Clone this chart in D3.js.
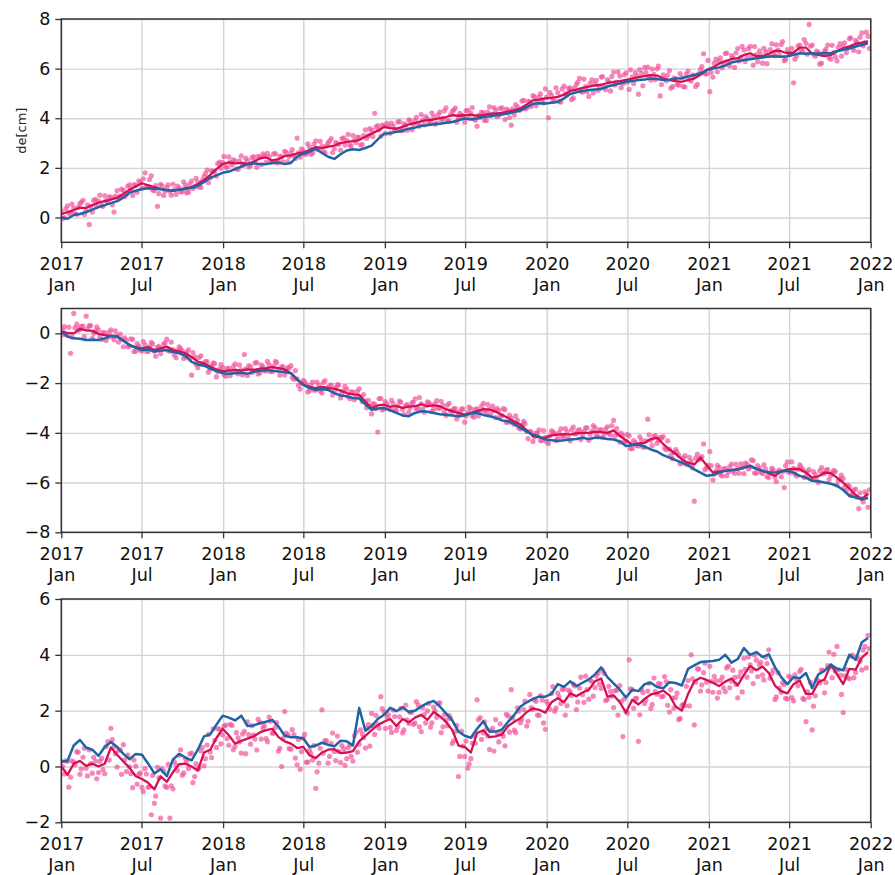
<!DOCTYPE html>
<html lang="en">

<head>
    <meta charset="UTF-8">
    <title>de time series</title>
    <style>
        body { margin: 0; background: #fff; }
        text { font-family: "DejaVu Sans", sans-serif; }
    </style>
</head>

<body>
    <svg id="chart" width="895" height="875"></svg>

    <script src="https://d3js.org/d3.v7.min.js"></script>
    <script>

        // time axis: dates of the samples
        var startDate = "2017-01-01"
        var endDate = "2022-01-01"
        var lineStepDays = 14   // smoothed / model lines, one value every 14 days
        var dotStepDays = 7     // observations, two runs of one value every 7 days
        var dotOffsetDays = [0, 3]
        var xTickMonths = 6

        // y tick labels of the three panels
        var yTicksE = [0, 2, 4, 6, 8]
        var yTicksN = [-8, -6, -4, -2, 0]
        var yTicksU = [-2, 0, 2, 4, 6]

        // panel 1
        var dotsE = [0.25, 0.0, 0.47, 0.21, 0.38, 0.13, 0.55, 0.69, 0.26, -0.28,
            0.22, 0.73, 0.66, 0.48, 0.88, 0.61, 0.82, 0.22, 1.08, 0.86,
            1.09, 0.94, 1.32, 0.89, 1.30, 1.48, 1.18, 1.8, 1.24, 1.68,
            1.08, 0.45, 1.34, 0.89, 1.21, 1.05, 1.35, 0.93, 1.19, 1.04,
            1.30, 1.02, 1.47, 1.24, 1.43, 1.21, 1.65, 1.91, 1.60, 1.86,
            1.67, 2.23, 2.21, 2.04, 2.44, 2.12, 2.28, 1.94, 2.48, 2.16,
            2.29, 2.10, 2.45, 2.02, 2.43, 2.56, 2.22, 2.45, 2.24, 2.57,
            2.21, 2.45, 2.67, 2.25, 2.61, 2.50, 3.2, 2.43, 2.69, 2.56,
            2.84, 2.60, 3.09, 2.77, 2.88, 2.61, 3.01, 3.18, 2.78, 2.97,
            2.72, 3.21, 3.11, 2.92, 3.30, 3.02, 3.22, 2.94, 3.53, 3.30,
            3.52, 4.2, 3.70, 3.28, 3.70, 3.79, 3.40, 3.68, 3.52, 3.86,
            3.51, 3.73, 3.94, 3.54, 3.91, 3.80, 4.15, 3.73, 3.99, 3.83,
            4.07, 3.80, 4.25, 3.98, 4.42, 3.87, 4.27, 4.41, 3.98, 4.13,
            3.84, 4.32, 4.21, 3.98, 3.68, 4.04, 4.23, 3.91, 4.46, 4.17,
            4.34, 4.11, 4.42, 3.95, 4.32, 3.72, 4.13, 4.46, 4.34, 4.72,
            4.41, 4.67, 4.91, 4.50, 4.86, 4.74, 5.18, 4.02, 4.92, 4.69,
            5.03, 4.65, 5.30, 4.96, 5.21, 4.82, 5.36, 5.61, 5.05, 5.28,
            4.88, 5.55, 5.40, 5.13, 5.66, 5.27, 5.56, 5.10, 5.86, 5.46,
            5.70, 5.39, 5.83, 5.16, 5.67, 5.85, 4.97, 5.81, 6.05, 6.06,
            5.54, 5.77, 5.99, 4.9, 5.75, 5.51, 5.92, 5.28, 5.60, 5.33,
            5.64, 5.26, 5.90, 5.50, 5.71, 5.37, 5.96, 6.6, 5.78, 5.07,
            5.66, 6.38, 6.28, 6.04, 6.61, 6.23, 6.52, 6.05, 6.81, 6.46,
            6.75, 6.45, 6.90, 6.14, 6.57, 6.72, 6.22, 6.68, 6.52, 7.00,
            6.52, 6.75, 6.97, 6.32, 6.77, 6.58, 5.43, 6.51, 6.95, 6.70,
            7.02, 7.78, 6.95, 6.50, 6.66, 6.22, 6.71, 6.95, 6.38, 6.66,
            6.31, 7.01, 6.90, 6.65, 7.21, 6.84, 7.14, 6.68, 7.44, 7.05, 7.30]
        var dotsE2 = [-0.05, 0.35, 0.16, 0.54, 0.16, 0.41, 0.61, 0.12, 0.51, 0.44,
            0.69, 0.45, 0.9, 0.45, 0.68, 0.83, 0.51, 0.86, 0.75, 1.14,
            0.84, 1.26, 1.14, 1.33, 1.02, 1.41, 1.56, 1.25, 1.53, 1.11,
            1.29, 0.96, 1.28, 1.07, 1.32, 0.9, 1.12, 1.27, 1.04, 1.44,
            0.99, 1.36, 1.17, 1.58, 1.23, 1.5, 1.77, 1.4, 1.88, 1.86,
            2.17, 1.98, 2.46, 2.01, 2.22, 2.32, 1.96, 2.28, 2.1, 2.39,
            2.03, 2.41, 2.27, 2.46, 2.13, 2.47, 2.59, 2.26, 2.56, 2.21,
            2.47, 2.24, 2.63, 2.46, 2.74, 2.38, 2.62, 2.77, 2.55, 2.97,
            2.55, 2.96, 2.75, 3.07, 2.66, 2.89, 3.08, 2.62, 3.03, 2.95,
            3.18, 2.92, 3.35, 2.88, 3.1, 3.24, 2.92, 3.3, 3.19, 3.58,
            3.26, 3.65, 3.53, 3.72, 3.38, 3.67, 3.8, 3.52, 3.85, 3.5,
            3.77, 3.52, 3.9, 3.75, 4.04, 3.68, 3.92, 4.07, 3.83, 4.21,
            3.76, 4.14, 3.93, 4.3, 3.91, 4.14, 4.33, 3.84, 4.2, 4.09,
            4.3, 4.02, 4.43, 3.92, 4.12, 4.25, 3.91, 4.25, 4.1, 4.43,
            4.06, 4.4, 4.22, 4.37, 4.03, 4.38, 4.55, 4.31, 4.69, 4.38,
            4.68, 4.47, 4.87, 4.7, 4.98, 4.61, 4.85, 5.04, 4.69, 5.23,
            4.67, 5.18, 4.98, 5.21, 4.75, 5.22, 5.45, 5.1, 5.58, 5.08,
            5.41, 5.02, 5.53, 5.28, 5.68, 5.15, 5.47, 5.68, 5.34, 5.87,
            5.23, 5.75, 5.45, 5.95, 5.4, 5.71, 5.96, 5.31, 5.85, 5.69,
            5.98, 5.56, 6.1, 5.36, 5.6, 5.74, 5.21, 5.62, 5.36, 5.8,
            5.28, 5.78, 5.55, 5.74, 5.28, 5.79, 6.08, 5.8, 6.33, 5.85,
            6.22, 5.87, 6.43, 6.22, 6.63, 6.11, 6.43, 6.63, 6.31, 6.9,
            6.29, 6.81, 6.48, 6.89, 6.28, 6.56, 6.82, 6.2, 6.77, 6.65,
            6.96, 6.54, 7.09, 6.37, 6.64, 6.82, 6.38, 6.91, 6.72, 7.17,
            6.58, 6.91, 6.58, 6.71, 6.18, 6.59, 6.79, 6.44, 6.94, 6.48,
            6.86, 6.5, 7.04, 6.82, 7.24, 6.73, 7.05, 7.26, 6.92, 7.47, 6.82]
        var redE = [0.13, 0.22, 0.3, 0.4, 0.38, 0.5, 0.6, 0.66, 0.72, 0.8,
            0.95, 1.12, 1.25, 1.38, 1.3, 1.22, 1.15, 1.1, 1.08, 1.12,
            1.18, 1.22, 1.35, 1.5, 1.72, 1.95, 2.15, 2.22, 2.18, 2.2,
            2.15, 2.25, 2.38, 2.42, 2.3, 2.35, 2.48, 2.5, 2.58, 2.62,
            2.72, 2.84, 2.8, 2.86, 2.9, 3.0, 3.05, 3.08, 3.12, 3.25,
            3.38, 3.5, 3.65, 3.6, 3.58, 3.65, 3.75, 3.8, 3.88, 3.92,
            3.95, 4.0, 4.05, 4.12, 4.1, 4.12, 4.15, 4.1, 4.13, 4.18,
            4.2, 4.22, 4.27, 4.33, 4.4, 4.55, 4.72, 4.75, 4.8, 4.82,
            4.86, 4.95, 5.1, 5.15, 5.22, 5.27, 5.32, 5.35, 5.42, 5.47,
            5.5, 5.55, 5.6, 5.66, 5.7, 5.74, 5.72, 5.6, 5.54, 5.5,
            5.47, 5.55, 5.6, 5.75, 5.95, 6.05, 6.2, 6.3, 6.38, 6.42,
            6.55, 6.62, 6.5, 6.5, 6.6, 6.72, 6.7, 6.62, 6.65, 6.85,
            6.85, 6.6, 6.55, 6.5, 6.55, 6.7, 6.82, 6.9, 7.0, 7.05,
            7.1]
        var blueE = [0.0, -0.05, 0.1, 0.14, 0.22, 0.32, 0.42, 0.5, 0.58, 0.66,
            0.8, 1.0, 1.08, 1.15, 1.18, 1.16, 1.14, 1.1, 1.08, 1.12,
            1.15, 1.2, 1.28, 1.42, 1.6, 1.7, 1.8, 1.85, 1.95, 2.05,
            2.15, 2.18, 2.16, 2.15, 2.2, 2.22, 2.15, 2.2, 2.45, 2.57,
            2.65, 2.77, 2.6, 2.45, 2.36, 2.55, 2.7, 2.75, 2.72, 2.8,
            2.9, 3.15, 3.38, 3.4, 3.45, 3.5, 3.58, 3.62, 3.7, 3.72,
            3.76, 3.78, 3.82, 3.85, 3.92, 3.99, 3.95, 3.99, 4.05, 4.08,
            4.12, 4.15, 4.19, 4.25, 4.32, 4.45, 4.58, 4.6, 4.59, 4.62,
            4.66, 4.8, 4.98, 5.05, 5.1, 5.14, 5.16, 5.18, 5.28, 5.34,
            5.4, 5.47, 5.5, 5.54, 5.56, 5.6, 5.58, 5.54, 5.55, 5.6,
            5.61, 5.68, 5.74, 5.82, 5.93, 6.0, 6.05, 6.12, 6.25, 6.3,
            6.35, 6.38, 6.42, 6.45, 6.49, 6.5, 6.48, 6.5, 6.56, 6.62,
            6.6, 6.62, 6.6, 6.63, 6.62, 6.7, 6.76, 6.82, 6.89, 6.95,
            7.02]

        // panel 2
        var dotsN = [-0.08, 0.27, -0.06, -0.8, 0.8, 0.37, 0.16, 0.29, 0.69, 0.31,
            -0.2, 0.09, 0.14, -0.25, 0.02, -0.15, 0.14, -0.26, -0.1, -0.03,
            -0.54, -0.28, -0.51, -0.24, -0.72, -0.51, -0.71, -0.46, -0.73, -0.36,
            -0.72, -0.56, -0.82, -0.42, -0.23, -0.72, -0.65, -0.98, -0.54, -0.7,
            -0.95, -0.66, -1.68, -0.94, -1.38, -0.9, -1.24, -1.14, -1.43, -1.19,
            -1.75, -1.44, -1.37, -1.72, -1.41, -1.55, -1.23, -1.63, -1.47, -0.85,
            -1.69, -1.35, -1.51, -1.18, -1.59, -1.34, -1.51, -1.26, -1.54, -1.13,
            -1.45, -1.35, -1.67, -1.38, -1.3, -1.85, -1.83, -2.24, -1.89, -2.05,
            -2.3, -1.96, -2.28, -2.08, -2.4, -1.9, -2.22, -2.07, -2.32, -2.06,
            -2.6, -2.3, -2.24, -2.63, -2.36, -2.52, -2.23, -2.75, -2.72, -2.69,
            -3.24, -2.84, -3.97, -2.62, -3.04, -2.84, -3.06, -2.82, -3.11, -2.72,
            -3.05, -2.9, -3.17, -2.79, -2.63, -3.01, -2.83, -3.17, -2.75, -2.86,
            -3.05, -2.7, -3.01, -2.89, -3.3, -2.81, -3.15, -3.03, -3.3, -3.04,
            -3.57, -3.19, -3.04, -3.37, -3.04, -3.15, -2.81, -3.2, -3.04, -2.92,
            -3.39, -3.1, -3.31, -3.07, -3.57, -3.41, -3.66, -3.49, -3.85, -3.54,
            -3.95, -3.94, -4.35, -4.01, -3.88, -4.31, -4.18, -4.43, -3.92, -4.03,
            -4.22, -3.84, -4.13, -3.96, -4.32, -3.77, -4.04, -3.87, -4.1, -3.8,
            -4.3, -3.93, -3.79, -4.16, -3.88, -4.05, -3.76, -4.09, -3.5, -3.83,
            -4.37, -4.11, -4.34, -4.12, -4.64, -4.38, -4.53, -4.29, -4.58, -3.45,
            -4.3, -4.15, -4.42, -4.18, -4.15, -4.68, -4.65, -5.04, -4.67, -4.9,
            -5.22, -4.92, -5.28, -5.14, -6.75, -4.86, -5.02, -4.45, -5.4, -4.75,
            -5.9, -5.53, -5.39, -5.74, -5.44, -5.58, -5.26, -5.63, -5.44, -5.25,
            -5.64, -5.26, -5.37, -5.12, -5.62, -5.42, -5.64, -5.46, -5.8, -5.43,
            -5.78, -5.56, -5.77, -6.2, -5.17, -5.58, -5.43, -5.74, -5.29, -5.48,
            -5.75, -5.48, -5.88, -5.68, -6.0, -5.4, -5.62, -5.47, -5.72, -5.51,
            -6.1, -5.85, -5.84, -6.33, -6.16, -6.44, -6.26, -7.05, -6.64, -6.37, -7.0]
        var dotsN2 = [0.14, -0.06, 0.25, -0.15, 0.23, 0.13, 0.28, -0.13, 0.18, 0.31,
            0.0, 0.26, -0.16, 0.03, -0.29, 0.05, -0.15, 0.1, -0.35, -0.23,
            -0.18, -0.53, -0.22, -0.73, -0.41, -0.67, -0.33, -0.72, -0.54, -0.43,
            -0.92, -0.52, -0.61, -0.38, -0.69, -0.35, -0.87, -0.7, -0.61, -1.01,
            -0.76, -1.0, -0.77, -1.24, -0.97, -1.21, -1.14, -1.56, -1.3, -1.22,
            -1.54, -1.26, -1.65, -1.42, -1.7, -1.34, -1.52, -1.27, -1.67, -1.43,
            -1.3, -1.57, -1.19, -1.63, -1.27, -1.49, -1.13, -1.53, -1.33, -1.18,
            -1.68, -1.34, -1.52, -1.39, -1.78, -1.5, -2.09, -2.0, -1.96, -2.36,
            -2.08, -2.28, -1.96, -2.31, -1.98, -2.2, -2.1, -2.48, -2.18, -2.08,
            -2.4, -2.13, -2.54, -2.35, -2.67, -2.33, -2.58, -2.46, -2.99, -2.91,
            -2.82, -3.03, -2.62, -3.08, -2.74, -3.01, -2.69, -3.1, -2.91, -2.77,
            -3.26, -2.86, -2.98, -2.77, -3.03, -2.58, -3.06, -2.9, -2.79, -3.14,
            -2.83, -3.01, -2.73, -3.17, -2.89, -3.12, -3.04, -3.44, -3.16, -3.05,
            -3.32, -2.97, -3.31, -3.06, -3.32, -2.93, -3.1, -2.85, -3.27, -3.1,
            -3.02, -3.34, -3.03, -3.57, -3.29, -3.59, -3.32, -3.8, -3.69, -3.63,
            -4.23, -3.97, -4.17, -4.0, -4.31, -3.91, -4.37, -4.12, -3.96, -4.31,
            -3.99, -4.15, -3.83, -4.22, -3.88, -4.04, -3.91, -4.27, -3.94, -3.8,
            -4.06, -3.71, -4.09, -3.88, -4.19, -3.85, -4.02, -3.71, -4.14, -4.04,
            -4.01, -4.36, -4.07, -4.63, -4.31, -4.51, -4.16, -4.57, -4.32, -4.08,
            -4.51, -4.11, -4.29, -4.22, -4.62, -4.32, -4.9, -4.79, -4.77, -5.24,
            -5.02, -5.26, -4.99, -5.4, -5.02, -5.08, -4.96, -5.48, -5.31, -5.32,
            -5.66, -5.31, -5.68, -5.45, -5.73, -5.37, -5.53, -5.26, -5.63, -5.39,
            -5.22, -5.45, -5.09, -5.62, -5.32, -5.59, -5.29, -5.76, -5.61, -5.49,
            -5.96, -5.5, -5.56, -5.32, -5.59, -5.17, -5.65, -5.46, -5.37, -5.8,
            -5.57, -5.84, -5.56, -5.91, -5.53, -5.65, -5.5, -5.88, -5.61, -5.56,
            -5.92, -5.7, -6.19, -6.1, -6.52, -6.3, -6.58, -6.41, -6.78, -6.47, -6.29]
        var redN = [0.07, 0.02, 0.0, 0.18, 0.12, 0.1, -0.02, -0.07, -0.1, -0.13,
            -0.3, -0.47, -0.55, -0.6, -0.55, -0.67, -0.6, -0.53, -0.67, -0.72,
            -0.8, -0.95, -1.13, -1.22, -1.33, -1.45, -1.53, -1.5, -1.47, -1.5,
            -1.45, -1.47, -1.42, -1.4, -1.36, -1.4, -1.45, -1.6, -1.85, -2.07,
            -2.15, -2.2, -2.15, -2.2, -2.22, -2.3, -2.4, -2.45, -2.47, -2.75,
            -3.0, -2.9, -2.87, -2.95, -2.93, -3.0, -2.95, -2.93, -2.85, -2.93,
            -2.9, -2.93, -3.05, -3.13, -3.2, -3.27, -3.2, -3.13, -3.05, -3.07,
            -3.15, -3.27, -3.4, -3.55, -3.67, -3.9, -4.13, -4.18, -4.2, -4.1,
            -4.07, -4.05, -4.07, -4.02, -4.0, -4.0, -3.95, -3.97, -4.0, -3.9,
            -4.13, -4.3, -4.47, -4.42, -4.4, -4.25, -4.2, -4.45, -4.67, -4.85,
            -5.07, -5.2, -5.27, -5.0, -5.3, -5.6, -5.55, -5.53, -5.5, -5.47,
            -5.4, -5.33, -5.45, -5.53, -5.62, -5.73, -5.55, -5.47, -5.45, -5.47,
            -5.6, -5.8, -5.75, -5.6, -5.62, -5.8, -6.0, -6.25, -6.5, -6.67,
            -6.45]
        var blueN = [0.07, -0.13, -0.2, -0.22, -0.27, -0.26, -0.27, -0.2, -0.1, -0.13,
            -0.3, -0.47, -0.58, -0.67, -0.65, -0.73, -0.7, -0.67, -0.75, -0.8,
            -0.9, -1.15, -1.25, -1.3, -1.42, -1.52, -1.6, -1.62, -1.6, -1.58,
            -1.62, -1.55, -1.5, -1.47, -1.5, -1.53, -1.55, -1.6, -1.85, -2.07,
            -2.2, -2.27, -2.25, -2.27, -2.4, -2.5, -2.53, -2.6, -2.62, -2.85,
            -3.07, -3.02, -3.0, -3.1, -3.2, -3.3, -3.33, -3.2, -3.13, -3.15,
            -3.2, -3.25, -3.27, -3.3, -3.33, -3.3, -3.22, -3.2, -3.28, -3.33,
            -3.4, -3.5, -3.53, -3.65, -3.8, -3.95, -4.07, -4.15, -4.27, -4.3,
            -4.33, -4.3, -4.27, -4.25, -4.2, -4.25, -4.2, -4.2, -4.25, -4.27,
            -4.35, -4.53, -4.5, -4.47, -4.55, -4.67, -4.75, -4.9, -5.0, -5.1,
            -5.2, -5.3, -5.47, -5.6, -5.73, -5.7, -5.6, -5.53, -5.5, -5.47,
            -5.4, -5.33, -5.45, -5.53, -5.58, -5.6, -5.55, -5.53, -5.6, -5.73,
            -5.8, -5.93, -5.95, -6.0, -6.05, -6.13, -6.3, -6.53, -6.6, -6.67,
            -6.62]

        // panel 3
        var dotsU = [0.18, -0.27, 0.18, -0.38, 0.16, 0.53, -0.28, 0.33, -0.06, 0.6,
            -0.24, 0.19, -0.22, 0.29, -0.26, 0.89, 1.37, 0.71, -0.02, 0.6,
            0.78, -0.18, -0.01, -0.76, 0.01, -0.28, -0.75, -0.08, -0.74, -1.73,
            -1.32, -0.03, -1.85, -0.17, -0.75, -1.85, -0.8, 0.04, 0.4, -0.31,
            0.28, -0.07, 0.48, -0.36, -0.09, 0.56, 0.02, 0.77, 0.52, 1.35,
            0.68, 1.33, 1.13, 1.48, 0.76, 1.47, 0.72, 1.03, 0.48, 1.26,
            1.6, 0.8, 1.12, 0.59, 1.58, 1.38, 1.0, 1.77, 1.19, 1.4,
            0.55, 0.0, 1.97, 1.14, 0.62, 1.14, 0.06, -0.1, 1.02, 0.15,
            0.58, 0.23, -0.78, 0.12, 2.03, 0.93, 0.12, 0.83, 0.54, 1.09,
            0.14, 0.63, 0.28, 0.77, 0.19, 1.23, 0.8, 1.16, 0.66, 1.5,
            1.9, 1.15, 1.52, 2.5, 1.96, 1.77, 1.4, 2.02, 1.29, 1.78,
            1.2, 2.2, 1.54, 1.95, 1.55, 2.2, 1.25, 1.86, 1.99, 1.41,
            2.13, 1.76, 2.28, 1.42, 1.66, 1.83, 0.82, 1.25, -0.36, 1.27,
            0.36, -0.06, 0.28, 1.09, 2.39, 1.75, 1.2, 1.34, 0.61, 1.37,
            1.68, 0.88, 1.19, 0.74, 1.81, 2.75, 1.3, 2.1, 1.57, 2.04,
            1.45, 2.58, 2.04, 2.34, 1.83, 2.38, 1.33, 2.22, 2.62, 1.98,
            2.63, 2.26, 2.78, 2.18, 2.68, 2.95, 2.04, 2.81, 2.57, 3.24,
            2.41, 3.04, 2.83, 3.34, 2.79, 3.33, 2.4, 2.69, 2.11, 2.73,
            2.9, 1.07, 1.97, 3.82, 2.75, 2.43, 0.9, 2.76, 2.26, 2.7,
            2.08, 3.17, 2.59, 2.96, 2.52, 3.04, 1.95, 2.45, 2.47, 1.68,
            2.18, 2.18, 3.08, 4.0, 1.49, 3.5, 2.7, 3.36, 3.02, 3.59,
            2.66, 3.08, 2.66, 3.2, 2.68, 3.6, 3.05, 3.19, 2.46, 3.39,
            3.88, 3.2, 3.64, 2.97, 3.81, 3.64, 3.28, 3.91, 4.18, 3.33,
            2.4, 3.36, 2.66, 2.94, 2.42, 3.19, 2.35, 3.12, 3.4, 2.44,
            1.61, 2.48, 1.31, 2.53, 3.08, 3.45, 2.64, 3.61, 3.57, 4.02,
            4.3, 3.27, 1.93, 3.47, 3.14, 3.99, 3.37, 3.85, 3.46, 4.3, 4.7]
        var dotsU2 = [0.0, 0.2, -0.74, 0.2, 0.06, 0.51, -0.09, 0.65, -0.34, 0.1,
            0.33, -0.44, 0.18, -0.11, 0.71, 0.23, 0.96, 0.46, 0.58, -0.28,
            0.24, 0.41, -0.26, 0.23, -0.63, -0.24, -0.9, -0.27, -0.72, -0.32,
            -1.06, -0.41, -0.08, -0.7, 0.08, -0.69, 0.17, -0.15, 0.6, -0.23,
            0.16, 0.45, -0.58, 0.09, -0.05, 0.68, 0.28, 1.15, 0.32, 0.94,
            1.36, 0.81, 1.45, 1.0, 1.51, 0.6, 1.21, 0.88, 1.16, 0.46,
            1.14, 1.46, 0.98, 1.69, 0.98, 1.46, 0.89, 1.62, 1.2, 1.57,
            0.65, 1.0, 1.2, 0.64, 1.32, 0.3, 0.97, 0.53, 1.15, 0.16,
            0.46, 0.75, -0.19, 0.65, 0.47, 0.92, 0.36, 1.2, 0.21, 0.54,
            0.75, 0.04, 0.67, 0.36, 1.1, 0.51, 1.31, 1.03, 1.37, 0.73,
            1.47, 1.83, 1.37, 2.07, 1.36, 1.85, 1.22, 1.79, 1.43, 2.08,
            1.31, 1.67, 1.94, 1.51, 2.32, 1.42, 2.1, 1.56, 2.26, 1.56,
            1.99, 2.26, 1.21, 1.85, 1.46, 1.72, 0.92, 1.47, 0.36, 0.73,
            0.91, 0.09, 0.84, 0.84, 1.68, 0.97, 1.6, 1.09, 1.28, 0.55,
            1.22, 1.53, 1.08, 1.87, 1.23, 1.74, 1.21, 1.98, 1.7, 2.34,
            1.62, 2.11, 2.39, 1.84, 2.54, 1.56, 2.32, 2.05, 2.86, 2.09,
            2.49, 2.76, 1.84, 2.74, 2.54, 2.89, 2.31, 3.2, 2.3, 2.75,
            3.09, 2.52, 3.24, 2.95, 3.45, 2.36, 2.87, 2.52, 2.71, 1.84,
            2.33, 2.42, 1.91, 2.78, 2.09, 2.44, 1.85, 2.65, 2.38, 2.98,
            2.23, 2.68, 2.97, 2.5, 3.22, 2.19, 2.75, 2.09, 2.63, 1.72,
            2.23, 2.87, 2.17, 3.14, 3.02, 3.49, 2.92, 3.7, 2.7, 3.05,
            3.23, 2.45, 3.08, 2.82, 3.53, 2.82, 3.45, 2.94, 3.22, 2.67,
            3.48, 3.92, 3.42, 3.99, 3.22, 3.73, 3.1, 3.69, 3.16, 3.45,
            2.49, 2.81, 3.0, 2.44, 3.24, 2.47, 3.28, 2.89, 3.48, 2.4,
            2.68, 3.02, 2.16, 3.12, 2.99, 3.44, 3.01, 4.1, 3.18, 3.41,
            3.47, 2.58, 3.25, 3.18, 3.95, 3.18, 3.94, 3.77, 4.17, 3.53, 4.22]
        var redU = [0, -0.3, 0.1, 0.2, 0.02, 0.1, 0, 0.1, 0.68, 0.42,
            0.18, -0.05, -0.35, -0.45, -0.58, -0.82, -0.35, -0.55, -0.2, 0.08,
            0.1, 0, -0.15, 0.5, 0.6, 1.02, 1.35, 1.12, 0.82, 0.92,
            1.0, 1.08, 1.22, 1.3, 1.35, 1.05, 0.9, 0.82, 0.66, 0.7,
            0.4, 0.3, 0.5, 0.6, 0.62, 0.48, 0.5, 0.55, 0.9, 1.1,
            1.3, 1.48, 1.6, 1.7, 1.45, 1.7, 1.58, 1.75, 1.85, 1.67,
            1.95, 1.8, 1.6, 1.3, 0.75, 0.7, 0.5, 1.2, 1.3, 1.05,
            1.08, 1.15, 1.45, 1.6, 1.73, 1.95, 2.08, 2.03, 1.93, 2.3,
            2.45, 2.3, 2.62, 2.52, 2.65, 2.75, 3.05, 3.15, 2.5, 2.55,
            2.3, 1.93, 2.39, 2.22, 2.42, 2.58, 2.63, 2.72, 2.55, 2.15,
            2.0, 2.6, 3.05, 3.18, 3.1, 3.0, 2.88, 3.04, 3.15, 2.9,
            3.28, 3.6, 3.45, 3.58, 3.35, 2.9, 2.7, 2.62, 2.95, 3.08,
            2.6, 2.6, 3.02, 3.12, 3.65, 3.3, 2.95, 3.5, 3.47, 3.9,
            4.1]
        var blueU = [0.18, 0.2, 0.75, 0.95, 0.68, 0.6, 0.38, 0.7, 0.88, 0.7,
            0.45, 0.26, 0.45, 0.42, 0.1, -0.25, -0.1, -0.35, 0.25, 0.45,
            0.32, 0.22, 0.6, 1.08, 1.15, 1.5, 1.82, 1.75, 1.65, 1.82,
            1.45, 1.47, 1.55, 1.6, 1.67, 1.43, 1.1, 1.05, 1.05, 1.0,
            0.7, 0.75, 0.85, 0.78, 0.72, 0.92, 0.9, 0.75, 2.1, 1.28,
            1.45, 1.7, 1.85, 2.1, 1.98, 2.12, 1.95, 2.0, 2.15, 2.27,
            2.35, 2.15, 1.9, 1.65, 1.25, 1.1, 1.03, 1.35, 1.62, 1.25,
            1.25, 1.32, 1.6, 1.85, 2.15, 2.3, 2.42, 2.5, 2.5, 2.6,
            2.95, 2.85, 3.05, 2.88, 3.0, 3.12, 3.3, 3.55, 3.2, 2.98,
            2.75, 2.47, 2.75, 2.7, 2.95, 3.0, 2.85, 2.8, 3.02, 2.99,
            2.9, 3.5, 3.62, 3.74, 3.76, 3.78, 3.82, 4.0, 3.72, 3.85,
            4.24, 4.0, 4.1, 3.92, 4.02, 3.56, 3.2, 2.95, 3.2, 3.16,
            3.35, 2.8, 3.3, 3.43, 3.65, 3.5, 3.45, 4.0, 3.82, 4.45,
            4.6]

        var parseDate = d3.utcParse("%Y-%m-%d")
        var start = parseDate(startDate)

        // set the dimensions of the three panels
        var left = 61.3, right = 870.7
        var panels = [
            { top: 19, bottom: 242.3, domain: [-1, 8], ticks: yTicksE, dots: [dotsE, dotsE2], red: redE, blue: blueE, label: "de[cm]" },
            { top: 308.5, bottom: 532.3, domain: [-8, 1], ticks: yTicksN, dots: [dotsN, dotsN2], red: redN, blue: blueN, label: "" },
            { top: 599, bottom: 822.3, domain: [-2, 6], ticks: yTicksU, dots: [dotsU, dotsU2], red: redU, blue: blueU, label: "" }
        ]

        var svg = d3.select("#chart")

        var x = d3.scaleUtc()
            .domain([start, parseDate(endDate)])
            .range([left, right])

        var xTicks = d3.utcMonth.every(xTickMonths)

        panels.forEach(function (p, k) {
            var y = d3.scaleLinear().domain(p.domain).range([p.bottom, p.top])
            var h = p.bottom - p.top
            var g = svg.append("g")

            // grid lines
            g.append("g")
                .attr("transform", "translate(0," + p.bottom + ")")
                .call(d3.axisBottom(x).ticks(xTicks).tickSize(-h).tickFormat(""))
                .call(function (a) { a.select(".domain").remove() })
                .selectAll("line").attr("stroke", "#d3d3d3").attr("stroke-width", 1.4)
            g.append("g")
                .attr("transform", "translate(" + left + ",0)")
                .call(d3.axisLeft(y).tickValues(p.ticks).tickSize(-(right - left)).tickFormat(""))
                .call(function (a) { a.select(".domain").remove() })
                .selectAll("line").attr("stroke", "#d3d3d3").attr("stroke-width", 1.4)

            // clip so nothing leaves the plot box
            svg.append("clipPath").attr("id", "clip" + k)
                .append("rect").attr("x", left).attr("y", p.top).attr("width", right - left).attr("height", h)

            var plot = g.append("g").attr("clip-path", "url(#clip" + k + ")")

            // observations, two runs shifted by a few days
            p.dots.forEach(function (run, r) {
                plot.append("g").selectAll("circle")
                    .data(run)
                    .enter()
                    .append("circle")
                    .attr("cx", function (d, i) { return x(d3.utcDay.offset(start, i * dotStepDays + dotOffsetDays[r])) })
                    .attr("cy", function (d) { return y(d) })
                    .attr("r", 2.6)
                    .attr("fill", "#f0509a")
                    .attr("opacity", 0.68)
            })

            var line = d3.line()
                .x(function (d, i) { return x(d3.utcDay.offset(start, i * lineStepDays)) })
                .y(function (d) { return y(d) })

            plot.append("path")
                .datum(p.red)
                .attr("d", line)
                .attr("fill", "none")
                .attr("stroke", "#d60f50")
                .attr("stroke-width", 2.3)
                .attr("stroke-linejoin", "round")

            plot.append("path")
                .datum(p.blue)
                .attr("d", line)
                .attr("fill", "none")
                .attr("stroke", "#1f64a5")
                .attr("stroke-width", 2.5)
                .attr("stroke-linejoin", "round")

            // frame
            g.append("rect")
                .attr("x", left).attr("y", p.top)
                .attr("width", right - left).attr("height", h)
                .attr("fill", "none")
                .attr("stroke", "#333")
                .attr("stroke-width", 1.5)

            // y axis
            var ya = g.append("g")
                .attr("transform", "translate(" + left + ",0)")
                .call(d3.axisLeft(y).tickValues(p.ticks).tickSize(6).tickPadding(5))
            ya.select(".domain").remove()
            ya.selectAll("line").attr("stroke", "#333").attr("stroke-width", 1.3)
            ya.selectAll("text").attr("font-size", 17.5).attr("fill", "#111")
                .attr("font-family", "DejaVu Sans")

            // x axis, two line labels (year / month)
            var xa = g.append("g")
                .attr("transform", "translate(0," + p.bottom + ")")
                .call(d3.axisBottom(x).ticks(xTicks).tickSize(6).tickFormat(""))
            xa.select(".domain").remove()
            xa.selectAll("line").attr("stroke", "#333").attr("stroke-width", 1.3)
            var lab = xa.selectAll(".tick").append("text")
                .attr("fill", "#111")
                .attr("font-size", 17.5)
                .attr("text-anchor", "middle")
            lab.append("tspan").attr("x", 0).attr("y", 28)
                .text(function (d) { return d3.utcFormat("%Y")(d) })
            lab.append("tspan").attr("x", 0).attr("y", 48.5)
                .text(function (d) { return d3.utcFormat("%b")(d) })

            if (p.label) {
                g.append("text")
                    .attr("transform", "translate(22," + (p.top + h / 2) + ") rotate(-90)")
                    .attr("text-anchor", "middle")
                    .attr("dominant-baseline", "middle")
                    .attr("font-size", 13)
                    .attr("fill", "#222")
                    .text(p.label)
            }
        })
    </script>

</body>

</html>
